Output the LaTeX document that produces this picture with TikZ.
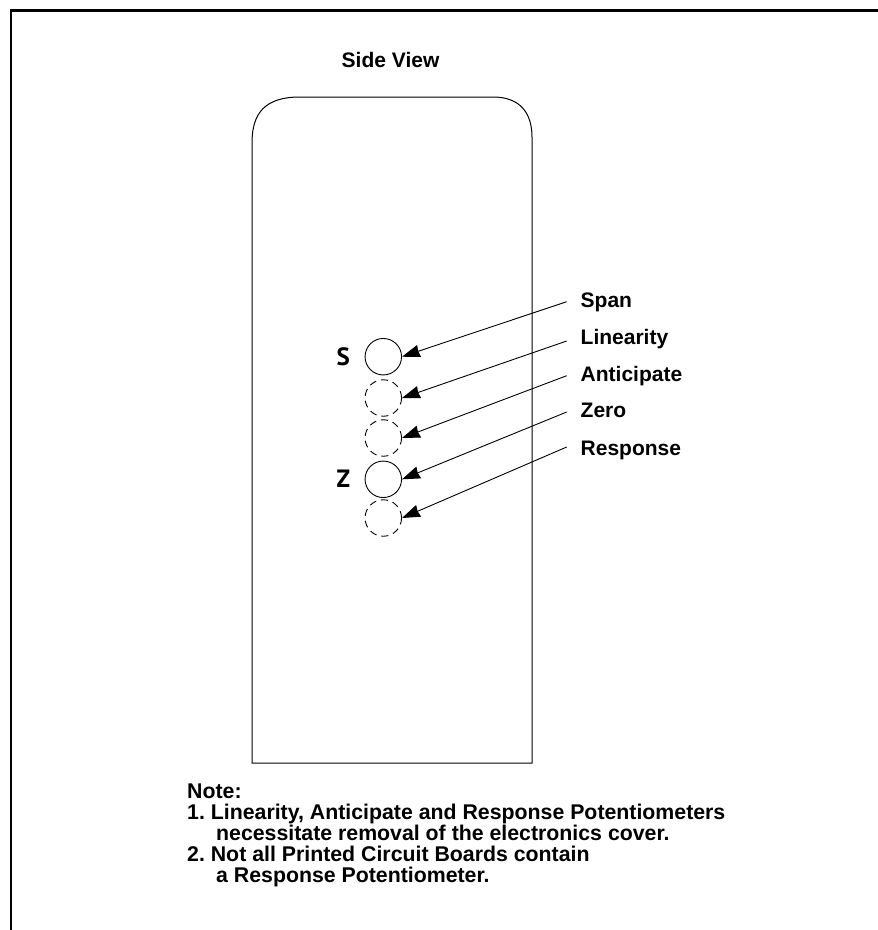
\documentclass[tikz,border=0pt]{standalone}
\usepackage{fontspec}
\setmainfont{Liberation Sans}
\newfontfamily\pinfont{PT Sans}
\usetikzlibrary{arrows.meta}

\begin{document}
\begin{tikzpicture}[x=1pt,y=-1pt,>={Stealth[length=18pt,width=12.5pt,inset=1pt]},
    pot node/.style={circle,draw,line width=0.9pt,minimum size=36.5pt,inner sep=0pt},
    hidden node/.style={pot node,dash pattern=on 7pt off 5pt},
    text node/.style={anchor=base west,inner sep=0pt,font=\fontsize{21}{20.8}\bfseries},
    pin node/.style={anchor=base west,inner sep=0pt,font=\fontsize{25}{26}\pinfont\bfseries},
    call line/.style={->,line width=0.9pt}]
    \useasboundingbox (0,0) rectangle (878,930);

    \draw[line width=2.6pt] (11,930) -- (11,10.5) -- (878,10.5);
    \draw[line width=1pt] (252,763) -- (252,143) .. controls (252,113) and (265,97) .. (300,97) -- (493,97)
        .. controls (520,97) and (532,113) .. (532,137) -- (532,763) -- cycle;

    \node[text node] (title) at (341.5,67.3) {Side View};

    \node[pot node] (span) at (383.3,356.7) {};
    \node[hidden node] (linearity) at (383.3,398) {};
    \node[hidden node] (anticipate) at (383.3,438) {};
    \node[pot node] (zero) at (383.3,479.3) {};
    \node[hidden node] (response) at (383.3,518) {};

    \node[pin node] (s) at (336.5,365) {S};
    \node[pin node] (z) at (336.5,487) {Z};

    \node[text node] (spanlabel) at (580.5,307.3) {Span};
    \node[text node] (linearitylabel) at (580.5,344.3) {Linearity};
    \node[text node] (anticipatelabel) at (580.5,381) {Anticipate};
    \node[text node] (zerolabel) at (580.5,417.7) {Zero};
    \node[text node] (responselabel) at (580.5,455) {Response};

    \coordinate (spantail) at (566.7,301.7);
    \coordinate (linearitytail) at (566.7,341);
    \coordinate (anticipatetail) at (566.7,375.7);
    \coordinate (zerotail) at (566.7,412);
    \coordinate (responsetail) at (566.7,447);

    \draw[call line] (spantail) -- (span.east);
    \draw[call line] (linearitytail) -- (linearity.east);
    \draw[call line] (anticipatetail) -- (anticipate.east);
    \draw[call line] (zerotail) -- (zero.east);
    \draw[call line] (responsetail) -- (response.east);

    \node[anchor=north west,inner sep=0pt,align=left,font=\fontsize{21.3}{20.9}\bfseries] (note) at (187,784) {Note:\\
        1.\ Linearity, Anticipate and Response Potentiometers\\
        \hspace*{29pt}necessitate removal of the electronics cover.\\
        2.\ Not all Printed Circuit Boards contain\\
        \hspace*{29pt}a Response Potentiometer.};
\end{tikzpicture}
\end{document}
